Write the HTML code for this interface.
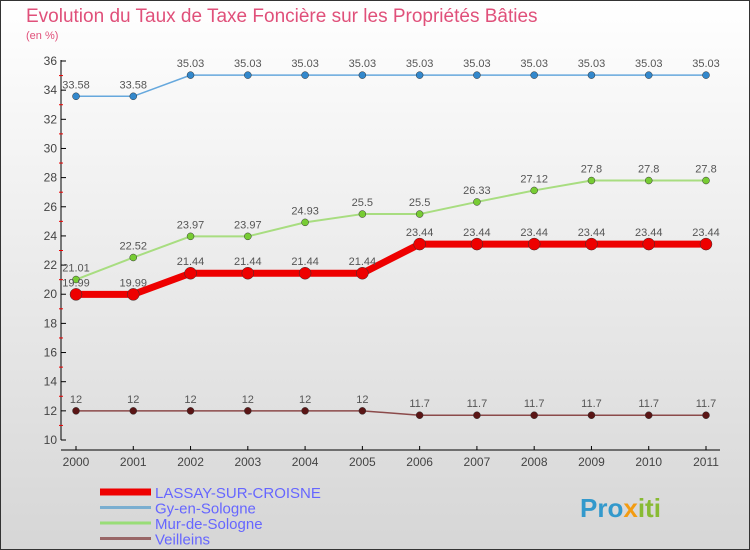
<!DOCTYPE html>
<html><head><meta charset="utf-8"><style>
body{margin:0;width:750px;height:550px;overflow:hidden;font-family:"Liberation Sans",sans-serif}
svg{display:block}
</style></head><body>
<svg width="750" height="550">
<defs><linearGradient id="bg" x1="0" y1="0" x2="0" y2="1"><stop offset="0" stop-color="#ffffff"/><stop offset="1" stop-color="#d6d6d6"/></linearGradient></defs>
<rect x="0.5" y="0.5" width="749" height="549" fill="url(#bg)" stroke="#333"/>
<text x="26" y="22" font-size="19" fill="#e0507a">Evolution du Taux de Taxe Foncière sur les Propriétés Bâties</text>
<text x="26" y="39" font-size="11" fill="#e0507a">(en %)</text>
<g id="axes"></g><g id="series"></g><g id="legend"></g>
<text x="580" y="517" font-size="26" font-weight="bold" fill="#3399cc">Pro<tspan fill="#f39c12">x</tspan><tspan fill="#88bb33">iti</tspan></text>
</svg>
<script>
const years=[2000,2001,2002,2003,2004,2005,2006,2007,2008,2009,2010,2011];
const lassay=[19.99,19.99,21.44,21.44,21.44,21.44,23.44,23.44,23.44,23.44,23.44,23.44];
const gy=[33.58,33.58,35.03,35.03,35.03,35.03,35.03,35.03,35.03,35.03,35.03,35.03];
const mur=[21.01,22.52,23.97,23.97,24.93,25.5,25.5,26.33,27.12,27.8,27.8,27.8];
const veil=[12,12,12,12,12,12,11.7,11.7,11.7,11.7,11.7,11.7];
const yTicks=[10,12,14,16,18,20,22,24,26,28,30,32,34,36];
const names=["LASSAY-SUR-CROISNE","Gy-en-Sologne","Mur-de-Sologne","Veilleins"];
const NS="http://www.w3.org/2000/svg";
const X=i=>76+i*(630/11);
const Y=v=>440-(v-10)*(379/26);
function mk(t,a,p){const e=document.createElementNS(NS,t);for(const k in a)e.setAttribute(k,a[k]);p.appendChild(e);return e;}
const ax=document.getElementById('axes');
let l=mk('line',{x1:61,y1:Y(36)-1,x2:61,y2:Y(10),stroke:'#000'},ax);


l=mk('line',{x1:61,y1:450,x2:720,y2:450,stroke:'#000'},ax);


yTicks.forEach((v,i)=>{
 mk('line',{x1:61,y1:Y(v),x2:66,y2:Y(v),stroke:'#000'},ax);
 if(i<yTicks.length-1) mk('line',{x1:59,y1:Y(v+1),x2:63,y2:Y(v+1),stroke:'#e00'},ax);
 const t=mk('text',{x:57,y:Y(v)+4,'font-size':12,'text-anchor':'end',fill:'#444'},ax);t.textContent=v;
 
 
});
years.forEach((y,i)=>{
 mk('line',{x1:X(i),y1:446,x2:X(i),y2:450,stroke:'#000'},ax);
 const t=mk('text',{x:X(i),y:466,'font-size':12,'text-anchor':'middle',fill:'#444'},ax);t.textContent=y;
 
 
});
const sg=document.getElementById('series');
function series(d,col,dot,w,r,name){
 const g=mk('g',{},sg);
 
 
 mk('polyline',{points:d.map((v,i)=>X(i)+','+Y(v)).join(' '),fill:'none',stroke:col,'stroke-width':w,'stroke-linejoin':'round'},g);
 d.forEach((v,i)=>{
  const c=mk('circle',{cx:X(i),cy:Y(v),r:r,fill:dot,stroke:'#333','stroke-width':0.5},g);
  
  
  const t=mk('text',{x:X(i),y:Y(v)-8,'font-size':11,'text-anchor':'middle',fill:'#555'},g);t.textContent=v;
 });
}
series(veil,'#8b4a4a','#5a1515',1.5,3.5,'series-veilleins');
series(mur,'#a8dd80','#77cc33',2,3.5,'series-mur-de-sologne');
series(gy,'#66a8dd','#3388cc',1.5,3.5,'series-gy-en-sologne');
series(lassay,'#ee0000','#ee0000',7,6,'series-lassay');
const lg=document.getElementById('legend');
const lc=['#ee0000','#7aaed0','#99dd77','#996666'],lw=[7,3,3,3];
names.forEach((n,i)=>{
 const y=492+i*15.5;
 const g=mk('g',{},lg);
 
 
 mk('line',{x1:100,y1:y,x2:151,y2:y,stroke:lc[i],'stroke-width':lw[i]},g);
 const t=mk('text',{x:155,y:y+6,'font-size':15,fill:'#6666ff'},g);t.textContent=n;
});
</script>
</body></html>
